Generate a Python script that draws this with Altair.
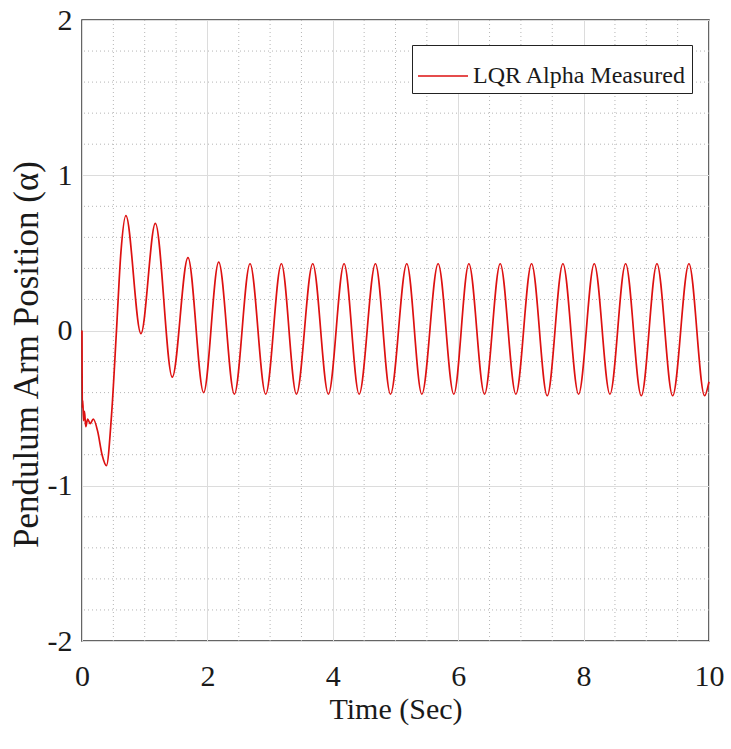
import altair as alt
import pandas as pd

# Time (s) and measured pendulum angle
time_s = [0.000, 0.005, 0.012, 0.025, 0.040, 0.060, 0.090, 0.130, 0.180, 0.250,
          0.320, 0.390, 0.470, 0.550, 0.620, 0.700, 0.940, 1.170, 1.440, 1.690,
          1.940, 2.180, 2.430, 2.680, 2.930, 3.180, 3.420, 3.680, 3.930, 4.180,
          4.420, 4.680, 4.920, 5.180, 5.420, 5.680, 5.930, 6.170, 6.420, 6.670,
          6.920, 7.170, 7.420, 7.670, 7.920, 8.170, 8.420, 8.670, 8.920, 9.170,
          9.420, 9.680, 9.930, 10.000]
alpha = [0.00, -0.50, -0.45, -0.58, -0.52, -0.62, -0.57, -0.60, -0.57, -0.65,
         -0.80, -0.87, -0.55, 0.00, 0.50, 0.74, -0.02, 0.69, -0.30, 0.47,
         -0.40, 0.44, -0.41, 0.43, -0.41, 0.43, -0.41, 0.43, -0.41, 0.43,
         -0.41, 0.43, -0.41, 0.43, -0.41, 0.43, -0.41, 0.43, -0.41, 0.43,
         -0.41, 0.43, -0.42, 0.43, -0.41, 0.43, -0.41, 0.43, -0.42, 0.43,
         -0.42, 0.43, -0.42, -0.33]
series_name = "LQR Alpha Measured"

x_major = [0, 2, 4, 6, 8, 10]
y_major = [-2, -1, 0, 1, 2]
x_minor = [0.5, 1.0, 1.5, 2.5, 3.0, 3.5, 4.5, 5.0, 5.5, 6.5, 7.0, 7.5, 8.5, 9.0, 9.5]
y_minor = [-1.8, -1.6, -1.4, -1.2, -0.8, -0.6, -0.4, -0.2,
           0.2, 0.4, 0.6, 0.8, 1.2, 1.4, 1.6, 1.8]

FONT = "Liberation Serif"
TXT = "#1a1a1a"
LBL = "datum.value < 0 ? '-' + abs(datum.value) : '' + datum.value"

df = pd.DataFrame({"t": time_s, "alpha": alpha, "series": [series_name] * len(time_s)})
xs = alt.Scale(domain=[0, 10], nice=False, zero=False)
ys = alt.Scale(domain=[-2, 2], nice=False, zero=False)

vminor = alt.Chart(pd.DataFrame({"v": x_minor})).mark_rule(
    color="#b5b5b5", strokeWidth=1, strokeDash=[1, 3]
).encode(x=alt.X("v:Q", scale=xs))

hminor = alt.Chart(pd.DataFrame({"v": y_minor})).mark_rule(
    color="#b5b5b5", strokeWidth=1, strokeDash=[1, 3]
).encode(y=alt.Y("v:Q", scale=ys))

line = alt.Chart(df).mark_line(strokeWidth=1.7, interpolate="monotone").encode(
    x=alt.X("t:Q", scale=xs, title="Time (Sec)",
            axis=alt.Axis(values=x_major, labelExpr=LBL, grid=True, ticks=False,
                          labelPadding=20, labelFlush=False, titleFontSize=30,
                          titleX=313.5, titleY=77, titleBaseline="alphabetic",
                          titleAlign="center")),
    y=alt.Y("alpha:Q", scale=ys, title="Pendulum Arm Position (α)",
            axis=alt.Axis(values=y_major, labelExpr=LBL, grid=True, ticks=False,
                          labelPadding=10, labelFlush=False, titleFontSize=35,
                          titleAngle=270, titleX=-45, titleY=334,
                          titleBaseline="alphabetic", titleAlign="center")),
    color=alt.Color("series:N", scale=alt.Scale(range=["#dd1111"]),
                    legend=alt.Legend(title=None, orient="none", legendX=330, legendY=25,
                                      symbolType="stroke", symbolSize=2500,
                                      symbolStrokeWidth=1.7, labelFont=FONT,
                                      labelFontSize=24, labelColor=TXT, labelLimit=0,
                                      strokeColor="#222", fillColor="white",
                                      padding=5, labelOffset=4)),
)

chart = alt.layer(vminor, hminor, line).properties(
    width=627, height=621,
    autosize=alt.AutoSizeParams(type="none"),
    padding={"left": 82, "top": 20, "right": 22, "bottom": 108},
    background="white",
).configure_view(
    stroke="#333333", strokeWidth=1.5
).configure_axis(
    labelFont=FONT, titleFont=FONT, labelFontSize=30,
    labelColor=TXT, titleColor=TXT, titleFontWeight="normal",
    gridColor="#dcdcdc", gridWidth=1, domain=False,
)

chart.save("out.html", embed_options={"renderer": "svg", "actions": False})
